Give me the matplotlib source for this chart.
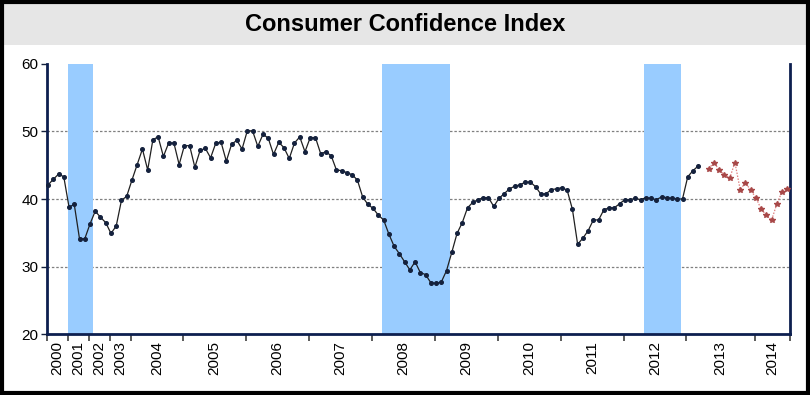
import numpy as np
import matplotlib
matplotlib.use("Agg")
from matplotlib import pyplot as plt
from matplotlib.patches import Rectangle

plt.rcParams['font.family'] = ['Liberation Sans', 'DejaVu Sans']

# Data: quarterly 2000-2003, then monthly (one point per category slot)
actual = [42.1, 42.9, 43.7, 43.3, 38.8, 39.2, 34.1, 34.1, 36.3, 38.2,
          37.3, 36.5, 34.9, 36.0, 39.8, 40.4, 42.8, 45.1, 47.4, 44.3,
          48.8, 49.2, 46.3, 48.3, 48.3, 45.1, 47.9, 47.9, 44.7,
          47.2, 47.5, 46.1, 48.3, 48.4, 45.6, 48.1, 48.7, 47.4, 50.1,
          50.1, 47.8, 49.6, 49.0, 46.6, 48.4, 47.6, 46.0, 48.3, 49.2,
          47.0, 49.1, 49.1, 46.7, 47.0, 46.4, 44.3, 44.2, 43.9,
          43.6, 42.8, 40.3, 39.2, 38.6, 37.6, 36.9, 34.8, 33.0, 31.9,
          30.7, 29.5, 30.7, 29.1, 28.8, 27.6, 27.5, 27.7, 29.4, 32.1,
          34.9, 36.5, 38.7, 39.5, 39.9, 40.2, 40.2, 38.9, 40.1,
          40.8, 41.5, 41.9, 42.1, 42.5, 42.5, 41.8, 40.7, 40.8, 41.4,
          41.5, 41.7, 41.3, 38.5, 33.3, 34.2, 35.3, 36.9, 36.9, 38.4,
          38.7, 38.7, 39.3, 39.9, 39.9, 40.1, 39.9, 40.2,
          40.1, 39.9, 40.3, 40.2, 40.1, 40.0, 40.0, 43.3, 44.2, 44.9]
forecast = [44.5, 45.4, 44.3, 43.6, 43.1, 45.4, 41.4, 42.4, 41.3, 40.2,
            38.5, 37.6, 36.9, 39.3, 41.1, 41.5]
forecast_start = 126

years = ['2000', '2001', '2002', '2003', '2004', '2005', '2006', '2007',
         '2008', '2009', '2010', '2011', '2012', '2013', '2014']
year_bounds = [0, 4, 8, 12, 16, 26, 38, 50, 62, 74, 86, 98, 110, 122, 135, 141.75]

band_start = [4.0, 64.0, 113.9]
band_end = [8.8, 76.9, 120.9]

x_act = np.arange(len(actual))
x_fc = np.arange(forecast_start, forecast_start + len(forecast))

fig = plt.figure(figsize=(8.1, 3.95), dpi=100)

# title bar
fig.patches.append(Rectangle((0, 0.886), 1, 0.11, transform=fig.transFigure,
                             facecolor='#e6e6e6', edgecolor='none', zorder=0))
fig.text(0.5, 0.937, 'Consumer Confidence Index', ha='center', va='center',
         fontsize=17, fontweight='bold')
# outer frame
fig.patches.append(Rectangle((0.003, 0.006), 0.994, 0.988, transform=fig.transFigure,
                             facecolor='none', edgecolor='black', linewidth=3, zorder=5))

ax = fig.add_axes([0.0577, 0.1544, 0.9176, 0.6836])

for s, e in zip(band_start, band_end):
    ax.axvspan(s - 0.25, e - 0.25, color='#99ccff', lw=0, zorder=1)

for v in [30, 40, 50]:
    ax.axhline(v, color='#808080', lw=0.9, ls=(0, (2, 1.5)), zorder=0.5)

ax.plot(x_act, actual, color='#202020', lw=0.9, marker='o', ms=2.6,
        mfc='#14213d', mec='#14213d', zorder=3, clip_on=False)
ax.plot(x_fc, forecast, color='#e08080', lw=0.9, ls=(0, (1.2, 1.2)),
        marker='*', ms=4.2, mfc='#a84848', mec='#a84848', zorder=3)

ax.set_xlim(-0.25, 141.5)
ax.set_ylim(20, 60)
ax.set_yticks([20, 30, 40, 50, 60])
ax.tick_params(axis='y', labelsize=11, length=4, width=1, color='#14213d', pad=2)

tick_pos = [b - 0.25 for b in year_bounds]
ax.set_xticks(tick_pos)
ax.set_xticklabels([])
ax.tick_params(axis='x', length=5, width=1.2, color='#404040')
centers = [(tick_pos[k] + tick_pos[k + 1]) / 2 for k in range(len(years))]
for c, lab in zip(centers, years):
    ax.text(c, -0.025, lab, transform=ax.get_xaxis_transform(), rotation=90,
            ha='center', va='top', fontsize=11)

for side in ['left', 'bottom', 'right']:
    ax.spines[side].set_color('#0d1f4f')
    ax.spines[side].set_linewidth(2)
ax.spines['top'].set_visible(False)

fig.savefig('out.png', dpi=100)
